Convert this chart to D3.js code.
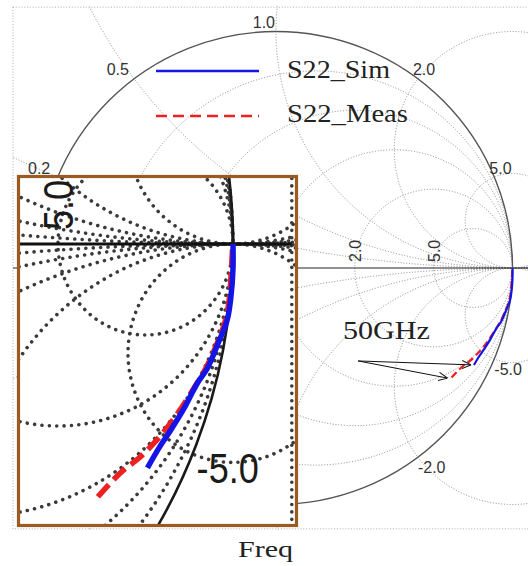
<!DOCTYPE html>
<html>
<head>
<meta charset="utf-8">
<script src="https://cdn.jsdelivr.net/npm/d3@7"></script>
<style>
  html, body { margin: 0; padding: 0; background: #fff; }
  svg { display: block; }
</style>
</head>
<body>
<script>
// Smith chart grid values (normalised impedance)
const resistanceValues = [0.2, 0.5, 1.0, 2.0, 5.0];
const reactanceValues = [0.2, 0.5, 1.0, 2.0, 5.0, -0.2, -0.5, -1.0, -2.0, -5.0];

// Series names
const seriesNames = ["S22_Sim", "S22_Meas"];

// S22 simulated, reflection coefficient (real, imaginary)
const simRe = [1.000, 1.000, 0.996, 0.989, 0.972, 0.951, 0.932, 0.905, 0.880, 0.860, 0.837];
const simIm = [0.000, -0.045, -0.097, -0.139, -0.181, -0.228, -0.255, -0.304, -0.343, -0.372, -0.410];

// S22 measured, reflection coefficient (real, imaginary)
const measRe = [0.999, 0.997, 0.993, 0.985, 0.968, 0.948, 0.925, 0.899, 0.874, 0.848, 0.821, 0.794, 0.768, 0.738];
const measIm = [-0.010, -0.045, -0.100, -0.142, -0.186, -0.228, -0.265, -0.304, -0.337, -0.366, -0.392, -0.412, -0.436, -0.468];

// Annotation and axis caption
const markerText = "50GHz";
const axisCaption = "Freq";

const W = 528, H = 566;
const BLUE = "#1414e6", RED = "#ee2020";

const simPts = simRe.map((v, i) => [v, simIm[i]]);
const measPts = measRe.map((v, i) => [v, measIm[i]]);

const svg = d3.select("body").append("svg")
  .attr("width", W).attr("height", H)
  .attr("font-family", "'Liberation Sans', Arial, sans-serif");

const defs = svg.append("defs");

// main chart scales: reflection coefficient -> pixels
const xMain = d3.scaleLinear().domain([-1, 1]).range([276 - 236.5, 276 + 236.5]);
const yMain = d3.scaleLinear().domain([-1, 1]).range([268 + 236.5, 268 - 236.5]);

// magnified view around the open-circuit point
const xZoom = d3.scaleLinear().domain([0, 1]).range([233 - 525, 233]);
const yZoom = d3.scaleLinear().domain([0, 1]).range([244, 244 - 546]);

const BOX_X = 1.112, BOX_Y = 1.103;

function gammaOfReactance(x) {
  const d = 1 + x * x;
  return [(x * x - 1) / d, 2 * x / d];
}

function drawGrid(g, xs, ys, st) {
  const grid = g.append("g")
    .attr("fill", "none")
    .attr("stroke", st.gridColor)
    .attr("stroke-width", st.gridWidth)
    .attr("stroke-dasharray", st.gridDash)
    .attr("stroke-linecap", st.gridCap);

  resistanceValues.forEach(r => {
    const c = r / (1 + r), rad = 1 / (1 + r);
    grid.append("ellipse")
      .attr("cx", xs(c)).attr("cy", ys(0))
      .attr("rx", Math.abs(xs(c + rad) - xs(c)))
      .attr("ry", Math.abs(ys(rad) - ys(0)));
  });

  reactanceValues.forEach(x => {
    const c = 1 / x, rad = Math.abs(1 / x);
    grid.append("ellipse")
      .attr("cx", xs(1)).attr("cy", ys(c))
      .attr("rx", Math.abs(xs(1 + rad) - xs(1)))
      .attr("ry", Math.abs(ys(rad) - ys(0)));
  });

  // plot box
  grid.append("rect")
    .attr("x", xs(-BOX_X)).attr("y", ys(BOX_Y))
    .attr("width", xs(BOX_X) - xs(-BOX_X))
    .attr("height", ys(-BOX_Y) - ys(BOX_Y))
    .attr("stroke", st.boxColor);

  // real axis
  g.append("line")
    .attr("x1", xs(-BOX_X)).attr("x2", xs(BOX_X))
    .attr("y1", ys(0)).attr("y2", ys(0))
    .attr("stroke", st.axisColor).attr("stroke-width", st.axisWidth);

  // unit circle
  g.append("ellipse")
    .attr("cx", xs(0)).attr("cy", ys(0))
    .attr("rx", Math.abs(xs(1) - xs(0)))
    .attr("ry", Math.abs(ys(1) - ys(0)))
    .attr("fill", "none")
    .attr("stroke", st.circleColor).attr("stroke-width", st.circleWidth);
}

function inside(b, x, y) {
  return x >= b.x && x <= b.x + b.w && y >= b.y && y <= b.y + b.h;
}

function drawLabels(g, xs, ys, st, bounds) {
  const lab = g.append("g")
    .attr("fill", st.textColor)
    .attr("font-size", st.fontSize);

  reactanceValues.forEach(x => {
    const [gr, gi] = gammaOfReactance(x);
    const px = xs(gr), py = ys(gi);
    const upper = x > 0;
    let anchor, tx;
    if (gr <= 0.01) {
      anchor = "end";
      tx = px - st.k * (1 + 7 * (-gr));
    } else {
      anchor = "start";
      tx = px + (upper ? st.upperDx : st.lowerDx);
    }
    const ty = upper ? py - st.upperDy : py + st.lowerDy;
    if (!inside(bounds, tx, ty)) return;
    lab.append("text")
      .attr("transform", `translate(${tx},${ty}) scale(${st.stretch},1)`)
      .attr("text-anchor", anchor)
      .text(x.toFixed(1));
  });

  resistanceValues.forEach(r => {
    const gr = (r - 1) / (r + 1);
    const tx = xs(gr) + st.rDx, ty = ys(0) - st.rDy;
    if (!inside(bounds, tx - 20, ty)) return;
    lab.append("text")
      .attr("transform", `translate(${tx},${ty}) rotate(-90) scale(${st.stretch},1)`)
      .attr("text-anchor", "start")
      .text(r.toFixed(1));
  });
}

function drawTraces(g, xs, ys, st) {
  const line = d3.line()
    .x(d => xs(d[0])).y(d => ys(d[1]))
    .curve(d3.curveCatmullRom.alpha(0.5));
  g.append("path").datum(measPts)
    .attr("d", line).attr("fill", "none")
    .attr("stroke", RED).attr("stroke-width", st.traceWidth)
    .attr("stroke-dasharray", st.traceDash);
  g.append("path").datum(simPts)
    .attr("d", line).attr("fill", "none")
    .attr("stroke", BLUE).attr("stroke-width", st.traceWidth);
}

// ---------- main chart ----------
defs.append("clipPath").attr("id", "mainClip")
  .append("rect")
  .attr("x", xMain(-BOX_X) - 1).attr("y", yMain(BOX_Y) - 1)
  .attr("width", xMain(BOX_X) - xMain(-BOX_X) + 2)
  .attr("height", yMain(-BOX_Y) - yMain(BOX_Y) + 2);

const mainStyle = {
  gridColor: "#8a8a8a", gridWidth: 1, gridDash: "1,1.8", gridCap: "butt",
  boxColor: "#a8a8a8", axisColor: "#222", axisWidth: 1,
  circleColor: "#555", circleWidth: 1.4,
  textColor: "#333", fontSize: "16px", stretch: 1, k: 1,
  upperDx: -5, lowerDx: 0, upperDy: 3.5, lowerDy: 16,
  rDx: 6, rDy: 6,
  traceWidth: 2.2, traceDash: "7,4"
};

const mainG = svg.append("g");
const mainClipped = mainG.append("g").attr("clip-path", "url(#mainClip)");
drawGrid(mainClipped, xMain, yMain, mainStyle);
drawLabels(mainG, xMain, yMain, mainStyle, { x: 0, y: 0, w: W, h: H });
drawTraces(mainClipped, xMain, yMain, mainStyle);

// frequency annotation with arrows to the last points
defs.append("marker").attr("id", "arrowOpen")
  .attr("viewBox", "0 0 10 10").attr("refX", 10).attr("refY", 5)
  .attr("markerWidth", 9).attr("markerHeight", 9)
  .attr("markerUnits", "userSpaceOnUse").attr("orient", "auto")
  .append("path").attr("d", "M0,0.5 L10,5 L0,9.5")
  .attr("fill", "none").attr("stroke", "#111").attr("stroke-width", 1.1);

const arrowFrom = [0.347, -0.393];
[simPts[simPts.length - 1], measPts[measPts.length - 1]].forEach(p => {
  const x0 = xMain(arrowFrom[0]), y0 = yMain(arrowFrom[1]);
  const x1 = xMain(p[0]), y1 = yMain(p[1]);
  const len = Math.hypot(x1 - x0, y1 - y0), back = 3;
  mainG.append("line")
    .attr("x1", x0).attr("y1", y0)
    .attr("x2", x1 - (x1 - x0) / len * back)
    .attr("y2", y1 - (y1 - y0) / len * back)
    .attr("stroke", "#111").attr("stroke-width", 1)
    .attr("marker-end", "url(#arrowOpen)");
});

mainG.append("text")
  .attr("x", xMain(0.283)).attr("y", yMain(-0.300))
  .attr("font-family", "'Liberation Serif', 'Times New Roman', serif")
  .attr("font-size", "25px").attr("fill", "#222")
  .attr("textLength", 87).attr("lengthAdjust", "spacingAndGlyphs")
  .text(markerText);

// ---------- magnified inset ----------
const inset = { x: 18.5, y: 176.5, w: 278, h: 349 };
defs.append("clipPath").attr("id", "insetClip")
  .append("rect").attr("x", inset.x).attr("y", inset.y)
  .attr("width", inset.w).attr("height", inset.h);

const zoomStyle = {
  gridColor: "#3a3a3a", gridWidth: 3.6, gridDash: "0.01,7.4", gridCap: "round",
  boxColor: "#3a3a3a", axisColor: "#111", axisWidth: 3,
  circleColor: "#1a1a1a", circleWidth: 2.6,
  textColor: "#1a1a1a", fontSize: "42px", stretch: 0.86, k: 2.2,
  upperDx: -10, lowerDx: 4, upperDy: 8, lowerDy: 29,
  rDx: 15, rDy: 14,
  traceWidth: 5.5, traceDash: "16,7"
};

const insetG = svg.append("g").attr("clip-path", "url(#insetClip)");
insetG.append("rect").attr("x", inset.x).attr("y", inset.y)
  .attr("width", inset.w).attr("height", inset.h).attr("fill", "#fff");
drawGrid(insetG, xZoom, yZoom, zoomStyle);
drawLabels(insetG, xZoom, yZoom, zoomStyle, inset);
drawTraces(insetG, xZoom, yZoom, zoomStyle);

svg.append("rect").attr("x", inset.x).attr("y", inset.y)
  .attr("width", inset.w).attr("height", inset.h)
  .attr("fill", "none").attr("stroke", "#9a5a22").attr("stroke-width", 3.2);

// ---------- legend ----------
const legend = svg.append("g")
  .attr("font-family", "'Liberation Serif', 'Times New Roman', serif")
  .attr("font-size", "25.5px").attr("fill", "#222");
const legendRows = [
  { name: seriesNames[0], color: BLUE, dash: null, y: 71, textY: 77.5, len: 103 },
  { name: seriesNames[1], color: RED, dash: "11,6", y: 116, textY: 121.5, len: 121 }
];
legendRows.forEach(row => {
  legend.append("line")
    .attr("x1", 156).attr("x2", 259).attr("y1", row.y).attr("y2", row.y)
    .attr("stroke", row.color).attr("stroke-width", 2.6)
    .attr("stroke-dasharray", row.dash);
  legend.append("text")
    .attr("x", 287).attr("y", row.textY)
    .attr("textLength", row.len).attr("lengthAdjust", "spacingAndGlyphs")
    .text(row.name);
});

// ---------- caption ----------
svg.append("text")
  .attr("x", 265.5).attr("y", 557)
  .attr("text-anchor", "middle")
  .attr("font-family", "'Liberation Serif', 'Times New Roman', serif")
  .attr("font-size", "24px").attr("fill", "#222")
  .attr("textLength", 55).attr("lengthAdjust", "spacingAndGlyphs")
  .text(axisCaption);
</script>
</body>
</html>
